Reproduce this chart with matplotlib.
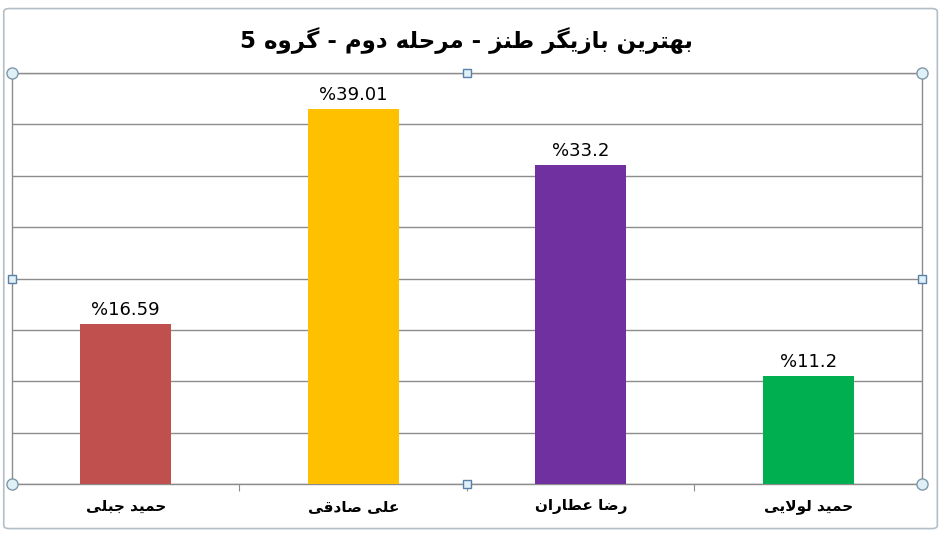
import re
import matplotlib
matplotlib.use("Agg")
import matplotlib.pyplot as plt
import numpy as np
from matplotlib.patches import FancyBboxPatch

title = "بهترین بازیگر طنز - مرحله دوم - گروه 5"
names = ["حمید جبلی", "علی صادقی", "رضا عطاران", "حمید لولایی"]
values = [16.59, 39.01, 33.2, 11.2]
colors = ["#C0504D", "#FFC000", "#7030A0", "#00B050"]
ymax = 42.7

# contextual forms: isolated, final, initial, medial
FORMS = {
    'ا': ('\uFE8D', '\uFE8E', None, None),
    'ب': ('\uFE8F', '\uFE90', '\uFE91', '\uFE92'),
    'ت': ('\uFE95', '\uFE96', '\uFE97', '\uFE98'),
    'ج': ('\uFE9D', '\uFE9E', '\uFE9F', '\uFEA0'),
    'ح': ('\uFEA1', '\uFEA2', '\uFEA3', '\uFEA4'),
    'د': ('\uFEA9', '\uFEAA', None, None),
    'ر': ('\uFEAD', '\uFEAE', None, None),
    'ز': ('\uFEAF', '\uFEB0', None, None),
    'ص': ('\uFEB9', '\uFEBA', '\uFEBB', '\uFEBC'),
    'ض': ('\uFEBD', '\uFEBE', '\uFEBF', '\uFEC0'),
    'ط': ('\uFEC1', '\uFEC2', '\uFEC3', '\uFEC4'),
    'ع': ('\uFEC9', '\uFECA', '\uFECB', '\uFECC'),
    'ق': ('\uFED5', '\uFED6', '\uFED7', '\uFED8'),
    'ل': ('\uFEDD', '\uFEDE', '\uFEDF', '\uFEE0'),
    'م': ('\uFEE1', '\uFEE2', '\uFEE3', '\uFEE4'),
    'ن': ('\uFEE5', '\uFEE6', '\uFEE7', '\uFEE8'),
    'ه': ('\uFEE9', '\uFEEA', '\uFEEB', '\uFEEC'),
    'و': ('\uFEED', '\uFEEE', None, None),
    'ی': ('\uFBFC', '\uFBFD', '\uFBFE', '\uFBFF'),
    'گ': ('\uFB92', '\uFB93', '\uFB94', '\uFB95'),
}


def dual(c):
    return c in FORMS and FORMS[c][2] is not None


def shape(s):
    out = []
    i = 0
    while i < len(s):
        c = s[i]
        if c not in FORMS:
            out.append(c)
            i += 1
            continue
        prev_join = i > 0 and dual(s[i - 1])
        nxt = s[i + 1] if i + 1 < len(s) else ''
        if c == 'ل' and nxt == 'ا':
            out.append('\uFEFC' if prev_join else '\uFEFB')
            i += 2
            continue
        next_join = dual(c) and nxt in FORMS
        iso, fin, ini, med = FORMS[c]
        if prev_join and next_join:
            out.append(med)
        elif prev_join:
            out.append(fin)
        elif next_join:
            out.append(ini)
        else:
            out.append(iso)
        i += 1
    vis = ''.join(out)[::-1]
    return re.sub(r'[0-9.]+', lambda m: m.group(0)[::-1], vis)


fig = plt.figure(figsize=(9.43, 5.35), dpi=100)
fig.patches.append(FancyBboxPatch((0.004, 0.012), 0.99, 0.972, boxstyle="round,pad=0,rounding_size=0.006",
                                  transform=fig.transFigure, fc="none", ec="#b4bec6", lw=1.2, zorder=-1))
ax = fig.add_axes([0.0127, 0.0953, 0.965, 0.768])
ax.set_facecolor("none")

x = np.arange(len(names))
ax.bar(x, values, width=0.4, color=colors, zorder=3)
for xi, v in zip(x, values):
    ax.text(xi, v + ymax * 0.012, "%" + f"{v:g}", ha="center", va="bottom", fontsize=13, color="black")

ax.set_xlim(-0.5, len(names) - 0.5)
ax.set_ylim(0, ymax)
ax.set_yticks(np.linspace(0, ymax, 9))
ax.yaxis.grid(True, color="#8c8c8c", lw=1, zorder=0)
ax.tick_params(axis="y", length=0, labelleft=False)
ax.set_xticks(x[:-1] + 0.5)
ax.set_xticklabels([])
ax.tick_params(axis="x", length=5, color="#8c8c8c", direction="out")
for sp in ax.spines.values():
    sp.set_color("#8c8c8c")
    sp.set_linewidth(1)

for xi, n in zip(x, names):
    ax.text(xi, -0.055, shape(n), transform=ax.get_xaxis_transform(), ha="center", va="center",
            fontsize=11, fontweight="bold", family="DejaVu Sans")

fig.text(0.495, 0.925, shape(title), ha="center", va="center", fontsize=16.5, fontweight="bold",
         family="DejaVu Sans")

# selection handles of the plot area
for hx, hy in [(0, 0), (1, 0), (0, 1), (1, 1)]:
    ax.plot(hx, hy, "o", ms=8, mfc="#dff0f6", mec="#7f98a8", mew=1, transform=ax.transAxes,
            clip_on=False, zorder=5)
for hx, hy in [(0.5, 0), (0.5, 1), (0, 0.5), (1, 0.5)]:
    ax.plot(hx, hy, "s", ms=6, mfc="#dff0f6", mec="#5a7fa8", mew=1, transform=ax.transAxes,
            clip_on=False, zorder=5)

fig.savefig("out.png", dpi=100)
